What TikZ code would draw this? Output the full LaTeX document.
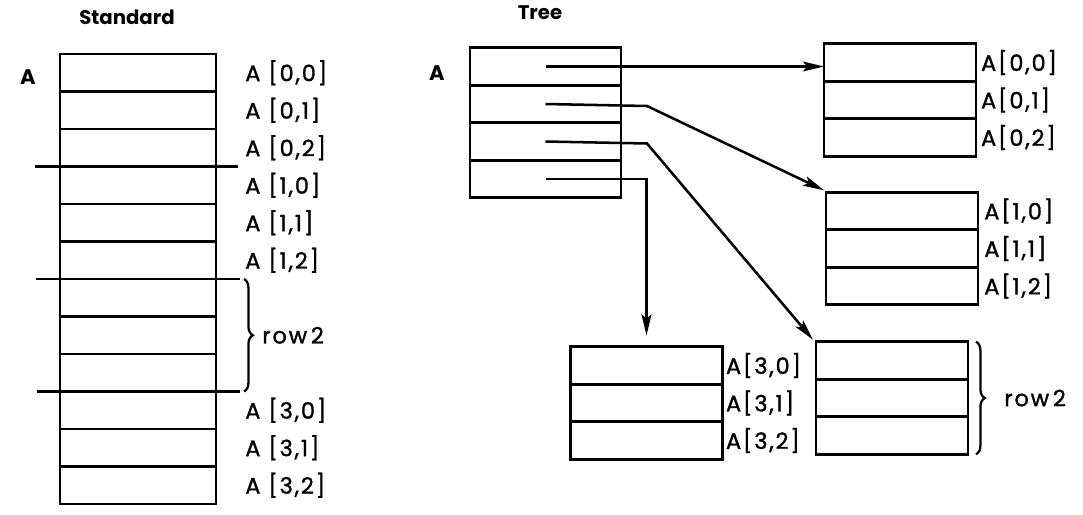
\documentclass[tikz,border=0pt]{standalone}
\usepackage{fontspec}
\setmainfont{Poppins}
\usetikzlibrary{arrows.meta,decorations.pathreplacing}
\begin{document}
\begin{tikzpicture}[x=0.025cm,y=-0.025cm,
  cell/.style={draw, line width=1.9pt, minimum width=3.9cm, minimum height=0.9375cm, inner sep=0pt, outer sep=0pt},
  tcell/.style={cell, minimum width=3.8cm},
  lab/.style={anchor=west, inner sep=0pt, font=\fontsize{16}{18}\selectfont\addfontfeatures{LetterSpace=8,FakeBold=1.2}},
  ttl/.style={inner sep=0pt, font=\fontsize{14}{16}\selectfont\bfseries},
  bigA/.style={inner sep=0pt, font=\fontsize{15}{17}\selectfont\bfseries},
  rule/.style={line width=1.9pt},
  ptr/.style={line width=1.8pt, -{Stealth[length=15pt,width=7pt,inset=3pt]}},
  br/.style={line width=1.6pt, decorate, decoration={brace, amplitude=0.22cm}}
]
\useasboundingbox (0,0) rectangle (1083,514);

% ---------- Standard ----------
\node[ttl] (stdt) at (127,17) {Standard};
\node[bigA] (stdA) at (28,77) {A};
\foreach \i in {0,...,11}
  \node[cell] (s\i) at (138,{72.75+37.5*\i}) {};
\foreach \i/\a/\b in {0/0/0,1/0/1,2/0/2,3/1/0,4/1/1,5/1/2,9/3/0,10/3/1,11/3/2}
  \node[lab] (ls\i) at ([xshift=0.725cm]s\i.east) {A [\a,\b]};
\draw[rule] ([xshift=-0.625cm]s3.north west) -- ([xshift=0.55cm]s3.north east);
\draw[rule] ([xshift=-0.6cm]s6.north west) -- ([xshift=0.6cm]s6.north east);
\draw[rule] ([xshift=-0.575cm]s9.north west) -- ([xshift=0.6cm]s9.north east);
\draw[br] ([xshift=0.7cm]s6.north east) -- ([xshift=0.7cm]s8.south east);
\node[lab] (lrow) at ([xshift=1.15cm]s7.east) {row\,2};

% ---------- Tree ----------
\node[ttl] (treet) at (540,13) {Tree};
\node[bigA] (treeA) at (437,73) {A};
\foreach \i in {0,...,3}
  \node[cell, minimum width=3.775cm] (p\i) at (545.5,{66.5+37.5*\i}) {};

\foreach \i in {0,1,2}
  \node[tcell] (a\i) at (900,{62.5+37.5*\i}) {};
\foreach \i in {0,1,2}
  \node[tcell] (b\i) at (902,{211+37.5*\i}) {};
\foreach \i in {0,1,2}
  \node[tcell] (c\i) at (646.5,{365.5+37.5*\i}) {};
\foreach \i in {0,1,2}
  \node[tcell] (r\i) at (892,{360.5+37.5*\i}) {};

\foreach \i in {0,1,2}
  \node[lab] (la\i) at ([xshift=0.12cm]a\i.east) {A[0,\i]};
\foreach \i in {0,1,2}
  \node[lab] (lb\i) at ([xshift=0.15cm]b\i.east) {A[1,\i]};
\foreach \i in {0,1,2}
  \node[lab] (lc\i) at ([xshift=0.08cm]c\i.east) {A[3,\i]};
\draw[br] ([xshift=0.2cm]r0.north east) -- ([xshift=0.2cm]r2.south east);
\node[lab] (lr) at ([xshift=0.9cm]r1.east) {row\,2};

\coordinate (k1) at (647,106);
\coordinate (k2) at (647,143.5);
\draw[ptr] (p0.center) -- (p0.center -| a0.west);
\draw[ptr] (p1.center) -- (k1) -- ([shift={(-2,-2)}]b0.north west);
\draw[ptr] (p2.center) -- (k2) -- ([shift={(-3,-2)}]r0.north west);
\draw[ptr, shorten >=8pt] (p3.center) -| (c0.north);
\end{tikzpicture}
\end{document}
